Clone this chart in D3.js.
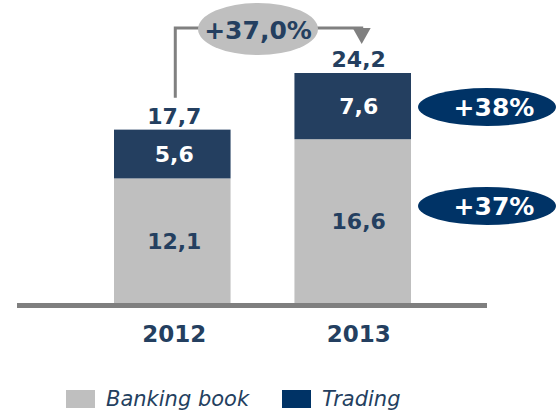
<!DOCTYPE html>
<html>
<head>
<meta charset="utf-8">
<script src="https://cdn.jsdelivr.net/npm/d3@7"></script>
<style>
  body { margin: 0; background: #fff; }
  text { font-family: "DejaVu Sans", Verdana, sans-serif; }
</style>
</head>
<body>
<svg id="chart" width="559" height="411"></svg>
<script>
// data
var years = ["2012", "2013"];
var banking = [12.1, 16.6];
var trading = [5.6, 7.6];
var totals = [17.7, 24.2];
var totalGrowth = "+37,0%";
var seriesGrowth = ["+37%", "+38%"]; // banking, trading
var legendLabels = ["Banking book", "Trading"];

var navy = "#243f60";
var gray = "#bfbfbf";
var pill = "#003366";

var svg = d3.select("#chart");

var rows = years.map(function(y, i) {
  return { year: y, banking: banking[i], trading: trading[i] };
});
var stack = d3.stack().keys(["banking", "trading"])(rows);

var x = d3.scaleBand().domain(years).range([114, 411]).paddingInner(0.354);
// the picture is not drawn to scale, baseline sits a bit below zero
var y = d3.scaleLinear().domain([-2.2, 24.2]).range([303, 73]);
var base = y.domain()[0];

var colors = { banking: gray, trading: navy };

svg.selectAll("g.layer")
  .data(stack)
  .enter().append("g")
  .attr("class", "layer")
  .attr("fill", d => colors[d.key])
  .selectAll("rect")
  .data(d => d)
  .enter().append("rect")
  .attr("x", d => x(d.data.year))
  .attr("width", x.bandwidth())
  .attr("y", d => y(d[1]))
  .attr("height", d => y(d[0] === 0 ? base : d[0]) - y(d[1]));

// axis line
svg.append("rect")
  .attr("x", 17).attr("width", 470)
  .attr("y", y(base)).attr("height", 5)
  .attr("fill", "#7f7f7f");

function cx(year, i) {
  return x(year) + x.bandwidth() / 2 + (i === 1 ? 6 : 2);
}

// segment labels
stack.forEach(function(layer) {
  svg.selectAll(null)
    .data(layer)
    .enter().append("text")
    .attr("x", (d, i) => cx(d.data.year, i))
    .attr("y", d => (y(d[0] === 0 ? base : d[0]) + y(d[1])) / 2 + 8)
    .attr("text-anchor", "middle")
    .attr("font-size", 22)
    .attr("font-weight", "bold")
    .attr("fill", layer.key === "trading" ? "#fff" : navy)
    .text(d => d3.format(".1f")(d[1] - d[0]).replace(".", ","));
});

// totals
svg.selectAll("text.total")
  .data(totals)
  .enter().append("text")
  .attr("class", "total")
  .attr("x", (d, i) => cx(years[i], i))
  .attr("y", d => y(d) - 6)
  .attr("text-anchor", "middle")
  .attr("font-size", 22)
  .attr("font-weight", "bold")
  .attr("fill", navy)
  .text(d => d3.format(".1f")(d).replace(".", ","));

// year labels
svg.selectAll("text.year")
  .data(years)
  .enter().append("text")
  .attr("class", "year")
  .attr("x", (d, i) => cx(d, i))
  .attr("y", 342)
  .attr("text-anchor", "middle")
  .attr("font-size", 23)
  .attr("font-weight", "bold")
  .attr("fill", navy)
  .text(d => d);

// growth bracket
var bx0 = x(years[0]) + x.bandwidth() / 2 + 3;
var bx1 = x(years[1]) + x.bandwidth() / 2 + 9;
var by = 28;
svg.append("path")
  .attr("d", "M" + bx0 + "," + (y(totals[0]) - 32) + "V" + by + "H" + bx1 + "V" + 34)
  .attr("fill", "none")
  .attr("stroke", "#808080")
  .attr("stroke-width", 3);
svg.append("path")
  .attr("d", "M" + (bx1 - 9) + "," + 28 + "L" + (bx1 + 9) + "," + 28 + "L" + bx1 + "," + 44 + "Z")
  .attr("fill", "#808080");
svg.append("ellipse")
  .attr("cx", 258).attr("cy", 29).attr("rx", 60).attr("ry", 26)
  .attr("fill", "#bfbfbf");
svg.append("text")
  .attr("x", 258).attr("y", 39)
  .attr("text-anchor", "middle")
  .attr("font-size", 25)
  .attr("font-weight", "bold")
  .attr("fill", navy)
  .text(totalGrowth);

// series growth pills, next to each 2013 segment
stack.forEach(function(layer, k) {
  var cy = layer.key === "trading" ? 107 : 206;
  var g = svg.append("g");
  g.append("ellipse")
    .attr("cx", 487).attr("cy", cy).attr("rx", 69).attr("ry", 19)
    .attr("fill", pill);
  g.append("text")
    .attr("x", 494).attr("y", cy + 9)
    .attr("text-anchor", "middle")
    .attr("font-size", 25)
    .attr("font-weight", "bold")
    .attr("fill", "#fff")
    .text(seriesGrowth[k]);
});

// legend
var legendX = [66, 282];
var legendColors = [gray, pill];
legendLabels.forEach(function(l, i) {
  svg.append("rect")
    .attr("x", legendX[i]).attr("y", 390)
    .attr("width", 29).attr("height", 18)
    .attr("fill", legendColors[i]);
  svg.append("text")
    .attr("x", legendX[i] + 40).attr("y", 406)
    .attr("font-size", 21)
    .attr("font-style", "italic")
    .attr("fill", navy)
    .text(l);
});
</script>
</body>
</html>
